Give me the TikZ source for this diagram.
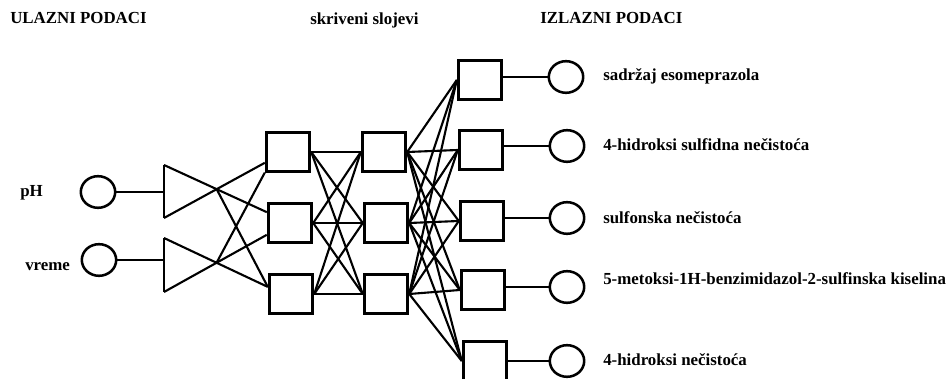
\documentclass[tikz,border=0pt]{standalone}
\usepackage{fontspec}
\setmainfont{Liberation Serif}
\usetikzlibrary{shapes.geometric, positioning, calc}
\tikzset{
  unit/.style={rectangle, draw=black, line width=2pt,
    minimum width=1.09cm, minimum height=0.96cm, inner sep=0pt},
  io/.style={ellipse, draw=black, line width=1.8pt,
    minimum width=0.86cm, minimum height=0.79cm, inner sep=0pt},
  link/.style={draw, line width=1.5pt, color=black},
  lbl/.style={anchor=west, inner sep=0pt,
    font=\fontsize{12}{14}\selectfont\bfseries}
}

\begin{document}
\begin{tikzpicture}[x=0.025cm, y=-0.025cm]
  \useasboundingbox (0,0) rectangle (948,379);
  \clip (0,0) rectangle (948,379);

  % Headings
  \node[lbl] (hin) at (10,18) {ULAZNI PODACI};
  \node[lbl] (hhid) at (310,20) {skriveni slojevi};
  \node[lbl] (hout) at (540,18) {IZLAZNI PODACI};

  % Inputs (Left)
  \node[io] (in1) at (98,192) {};
  \node[io] (in2) at (99,260) {};
  \node[lbl] (lin1) at (20,193) {pH};
  \node[lbl] (lin2) at (25,267) {vreme};

  % Hidden layers (Center)
  \node[unit] (h1a) at (288,152) {};
  \node[unit] (h1b) at (290,223) {};
  \node[unit] (h1c) at (291,294) {};
  \node[unit] (h2a) at (384,152) {};
  \node[unit] (h2b) at (386,223) {};
  \node[unit] (h2c) at (386,294) {};

  % Output units (Right)
  \node[unit] (o1) at (480,80) {};
  \node[unit] (o2) at (481,150) {};
  \node[unit] (o3) at (482,221) {};
  \node[unit] (o4) at (483,290) {};
  \node[unit] (o5) at (485,361) {};

  \node[io] (c1) at (566,77) {};
  \node[io] (c2) at (567,146) {};
  \node[io] (c3) at (567,218) {};
  \node[io] (c4) at (567,287) {};
  \node[io] (c5) at (567,361) {};

  \node[lbl] (l1) at (603,76) {sadržaj esomeprazola};
  \node[lbl] (l2) at (603,145) {4-hidroksi sulfidna nečistoća};
  \node[lbl] (l3) at (603,218) {sulfonska nečistoća};
  \node[lbl] (l4) at (603,279) {5-metoksi-1H-benzimidazol-2-sulfinska kiselina};
  \node[lbl] (l5) at (603,360) {4-hidroksi nečistoća};

  % Triangles
  \coordinate (t1top) at (164,165);
  \coordinate (t1bot) at (164,218);
  \coordinate (t2top) at (164,238);
  \coordinate (t2bot) at (164,292);
  \coordinate (t1x) at (intersection of t1top--h1b.155 and t1bot--h1a.205);
  \coordinate (t2x) at (intersection of t2top--h1c.163 and t2bot--h1b.207);

  \draw[link, line width=1.8pt] (t1top) -- (t1bot);
  \draw[link, line width=1.8pt] (t2top) -- (t2bot);
  \draw[link] (in1) -- (in1 -| t1top);
  \draw[link] (in2) -- (in2 -| t2top);

  \draw[link] (t1top) -- (h1b.155);
  \draw[link] (t1bot) -- (h1a.205);
  \draw[link] (t1x) -- (h1c.163);
  \draw[link] (t2top) -- (h1c.163);
  \draw[link] (t2bot) -- (h1b.207);
  \draw[link] (t2x) -- (h1a.south west);

  % Full connections
  \foreach \a in {h1a,h1b,h1c}
    \foreach \b in {h2a,h2b,h2c}
      \draw[link] (\a.east) -- (\b.west);
  \foreach \a in {h2a,h2b,h2c}
    \foreach \b in {o1,o2,o3,o4,o5}
      \draw[link] (\a.east) -- (\b.west);

  % Outputs
  \foreach \i in {1,...,5}
    \draw[link] (c\i -| o\i.east) -- (c\i);
\end{tikzpicture}
\end{document}
